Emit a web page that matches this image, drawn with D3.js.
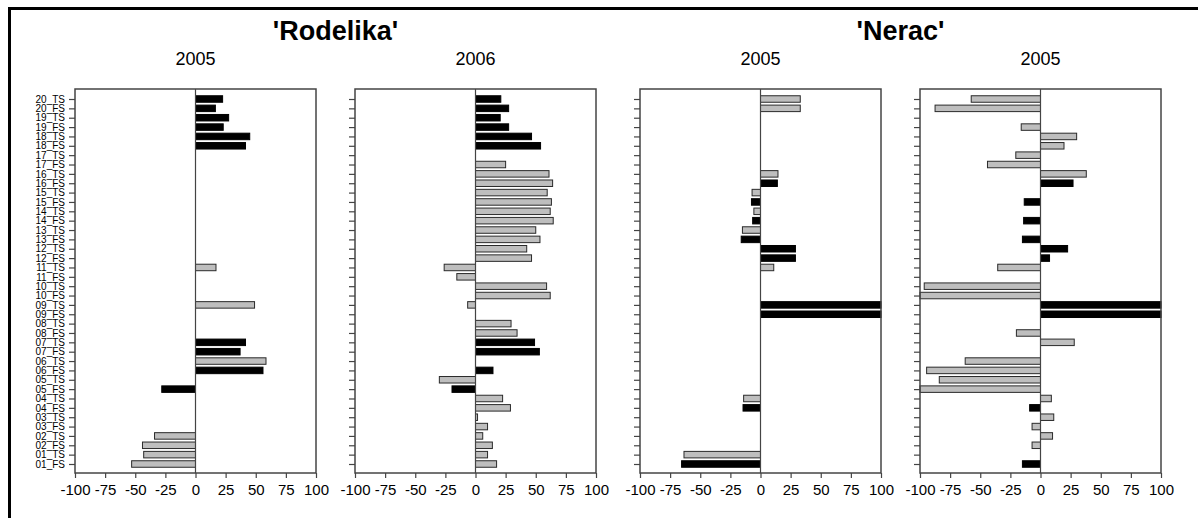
<!DOCTYPE html>
<html>
<head>
<meta charset="utf-8">
<script src="https://cdn.jsdelivr.net/npm/d3@7/dist/d3.min.js"></script>
<style>
  body { margin: 0; background: #fff; }
  svg { display: block; font-family: "Liberation Sans", Arial, sans-serif; }
</style>
</head>
<body>
<svg id="chart" width="1198" height="518"></svg>
<script>
// categories, bottom to top
const categories = [];
for (let i = 1; i <= 20; i++) {
  const n = String(i).padStart(2, "0");
  categories.push(n + "_FS", n + "_TS");
}

const xTicks = [-100, -75, -50, -25, 0, 25, 50, 75, 100];
const panelYears = ["2005", "2006", "2005", "2005"];
const cultivars = ["'Rodelika'", "'Nerac'"];

// values in category order 01_FS, 01_TS, 02_FS ... 20_TS (null = no bar)
const rodelika2005 = [
  -53, -43, -44, -34, null, null, null, null, -28, null,
  56, 58.5, 37, 41.5, null, null, null, 49, null, null,
  null, 17, null, null, null, null, null, null, null, null,
  null, null, null, null, 41.5, 45, 23, 27.5, 16.5, 22.5
];
const rodelika2006 = [
  17.5, 10, 14, 6, 10, 1.7, 29, 22.5, -19.5, -30,
  14.5, null, 53, 49, 34.5, 29.5, null, -6.5, 62, 59,
  -15.5, -26, 46.5, 42.5, 53.5, 50, 64.5, 62, 63, 59.5,
  64, 61, 25, null, 54, 46.5, 27.5, 20.5, 27.5, 21
];
const nerac2005a = [
  -65.5, -63.5, null, null, null, null, -14.5, -14, null, null,
  null, null, null, null, null, null, 100, 100, null, null,
  null, 11, 29, 29, -16, -15, -6.5, -5.5, -7.5, -7,
  14, 14.5, null, null, null, null, null, null, 33, 33
];
const nerac2005b = [
  -15, null, -7, 10, -7, 11, -9, 9, -100, -84,
  -94.5, -62.5, null, 28, -20, null, 100, 100, -100, -96.5,
  null, -35.5, 7.5, 22.5, -15, null, -14, null, -13.5, null,
  27, 38, -44, -20.5, 19.5, 30, -16, null, -87.5, -57.5
];

// 1 = black bar, 0 = grey bar
const rodelika2005Sig = [
  0, 0, 0, 0, 0, 0, 0, 0, 1, 0,
  1, 0, 1, 1, 0, 0, 0, 0, 0, 0,
  0, 0, 0, 0, 0, 0, 0, 0, 0, 0,
  0, 0, 0, 0, 1, 1, 1, 1, 1, 1
];
const rodelika2006Sig = [
  0, 0, 0, 0, 0, 0, 0, 0, 1, 0,
  1, 0, 1, 1, 0, 0, 0, 0, 0, 0,
  0, 0, 0, 0, 0, 0, 0, 0, 0, 0,
  0, 0, 0, 0, 1, 1, 1, 1, 1, 1
];
const nerac2005aSig = [
  1, 0, 0, 0, 0, 0, 1, 0, 0, 0,
  0, 0, 0, 0, 0, 0, 1, 1, 0, 0,
  0, 0, 1, 1, 1, 0, 1, 0, 1, 0,
  1, 0, 0, 0, 0, 0, 0, 0, 0, 0
];
const nerac2005bSig = [
  1, 0, 0, 0, 0, 0, 1, 0, 0, 0,
  0, 0, 0, 0, 0, 0, 1, 1, 0, 0,
  0, 0, 1, 1, 1, 0, 1, 0, 1, 0,
  1, 0, 0, 0, 0, 0, 0, 0, 0, 0
];

const panels = [
  { values: rodelika2005, sig: rodelika2005Sig, left: 75 },
  { values: rodelika2006, sig: rodelika2006Sig, left: 355 },
  { values: nerac2005a, sig: nerac2005aSig, left: 640 },
  { values: nerac2005b, sig: nerac2005bSig, left: 920 }
];

const svg = d3.select("#chart");
const W = 241, plotTop = 89, plotBottom = 473;

// outer frame (top and left only)
svg.append("path")
  .attr("d", "M9.5,518 L9.5,8.5 L1198,8.5")
  .attr("fill", "none").attr("stroke", "#000").attr("stroke-width", 3);

const y = d3.scalePoint().domain(categories).range([464, 99]);

panels.forEach((p, i) => {
  const x = d3.scaleLinear().domain([-100, 100]).range([p.left, p.left + W]);
  const g = svg.append("g");

  // year label
  g.append("text")
    .attr("x", x(0)).attr("y", 65)
    .attr("text-anchor", "middle")
    .attr("font-size", 18)
    .text(panelYears[i]);

  // bars
  const rows = categories.map((c, k) => ({ cat: c, v: p.values[k], s: p.sig[k] }))
    .filter(d => d.v !== null);
  const bh = 6.5;
  g.selectAll("rect.bar").data(rows).enter().append("rect")
    .attr("class", "bar")
    .attr("x", d => Math.min(x(0), x(d.v)))
    .attr("width", d => Math.abs(x(d.v) - x(0)))
    .attr("y", d => y(d.cat) - bh / 2)
    .attr("height", bh)
    .attr("fill", d => d.s ? "#000" : "#bebebe")
    .attr("stroke", d => d.s ? "#000" : "#2a2a2a")
    .attr("stroke-width", 1);

  // zero line
  g.append("line")
    .attr("x1", x(0)).attr("x2", x(0))
    .attr("y1", plotTop).attr("y2", plotBottom)
    .attr("stroke", "#444").attr("stroke-width", 1.2);

  // box
  g.append("rect")
    .attr("x", p.left).attr("y", plotTop)
    .attr("width", W).attr("height", plotBottom - plotTop)
    .attr("fill", "none").attr("stroke", "#444").attr("stroke-width", 1.5);

  // x axis
  const xAxis = g.append("g")
    .attr("transform", `translate(0,${plotBottom})`)
    .call(d3.axisBottom(x).tickValues(xTicks).tickFormat(d => String(d))
      .tickSize(5).tickPadding(6).tickSizeOuter(0));
  xAxis.select(".domain").remove();
  xAxis.selectAll("line").attr("stroke", "#444").attr("stroke-width", 1.2);
  xAxis.selectAll("text").attr("font-size", 15).attr("fill", "#000")
    .attr("font-family", "Liberation Sans, Arial, sans-serif");

  // y axis
  const yAxis = g.append("g")
    .attr("transform", `translate(${p.left},0)`)
    .call(d3.axisLeft(y).tickSize(6).tickPadding(4).tickSizeOuter(0)
      .tickFormat(i === 0 ? (d => d) : () => ""));
  yAxis.select(".domain").remove();
  yAxis.selectAll("line").attr("stroke", "#444").attr("stroke-width", 1.2);
  yAxis.selectAll("text").attr("font-size", 10).attr("fill", "#000")
    .attr("font-family", "Liberation Sans, Arial, sans-serif");
});

// cultivar titles
const titleX = [(195.5 + 475.5) / 2, (760.5 + 1040.5) / 2];
cultivars.forEach((t, i) => {
  svg.append("text")
    .attr("x", titleX[i]).attr("y", 40)
    .attr("text-anchor", "middle")
    .attr("font-size", 27).attr("font-weight", "bold")
    .text(t);
});
</script>
</body>
</html>
